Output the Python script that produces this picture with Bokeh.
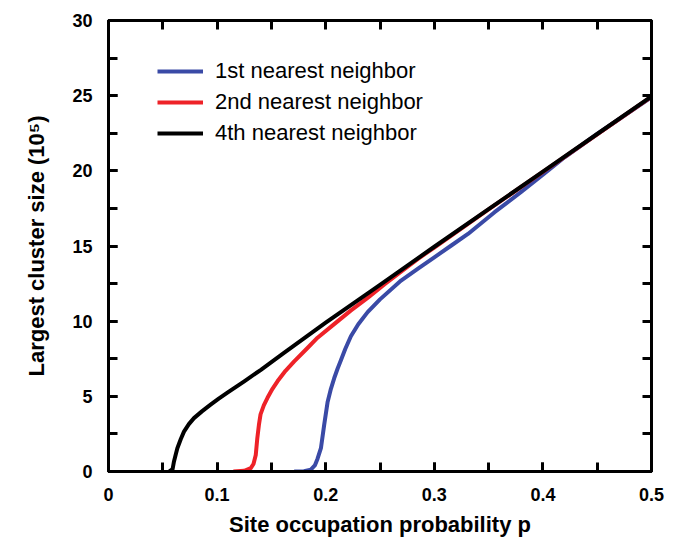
from bokeh.plotting import figure
from bokeh.models import LinearAxis, SingleIntervalTicker, FixedTicker, Legend, LegendItem, Range1d
from bokeh.embed import file_html
from bokeh.resources import INLINE

# Data
p_first = [0.171, 0.18, 0.1863, 0.1900, 0.1925, 0.1956, 0.1986, 0.2017, 0.2048, 0.2078, 0.211,
           0.214, 0.218, 0.2232, 0.23, 0.2386, 0.25, 0.2694, 0.285, 0.3, 0.315, 0.331, 0.3555,
           0.38, 0.4, 0.42, 0.45, 0.5]
y_first = [0, 0.02, 0.12, 0.4, 0.85, 1.55, 3.1, 4.6, 5.5, 6.2, 6.85,
           7.4, 8.15, 9.0, 9.8, 10.6, 11.45, 12.7, 13.5, 14.25, 15.0, 15.8, 17.25,
           18.6, 19.75, 20.9, 22.45, 24.9]

p_second = [0.115, 0.125, 0.131, 0.1335, 0.1356, 0.137, 0.1385, 0.140, 0.1430, 0.1464, 0.1510,
            0.1556, 0.163, 0.171, 0.183, 0.1925, 0.2078, 0.223, 0.2386, 0.254, 0.2694, 0.285,
            0.3, 0.35, 0.4, 0.45, 0.5]
y_second = [0, 0.05, 0.22, 0.5, 1.1, 2.2, 3.1, 3.8, 4.4, 4.9, 5.5,
            6.0, 6.7, 7.33, 8.2, 8.9, 9.8, 10.7, 11.55, 12.45, 13.3, 14.15,
            14.9, 17.43, 19.93, 22.43, 24.93]

p_fourth = [0.056, 0.0590, 0.0603, 0.0618, 0.0634, 0.0665, 0.0695, 0.074, 0.0787, 0.086, 0.094,
            0.1015, 0.1095, 0.125, 0.14, 0.16, 0.2, 0.25, 0.3, 0.35, 0.4, 0.45, 0.5]
y_fourth = [0, 0.15, 0.67, 1.1, 1.55, 2.15, 2.65, 3.15, 3.55, 4.0, 4.45,
            4.85, 5.25, 6.0, 6.75, 7.8, 9.9, 12.42, 14.95, 17.45, 19.95, 22.45, 24.95]

labels = ["1st nearest neighbor", "2nd nearest neighbor", "4th nearest neighbor"]
colors = ["#3a4aa6", "#ee2228", "#000000"]

x_tick_marks = [0, 0.05, 0.1, 0.15, 0.2, 0.25, 0.3, 0.35, 0.4, 0.45, 0.5]
y_tick_marks = [0, 2.5, 5, 7.5, 10, 12.5, 15, 17.5, 20, 22.5, 25, 27.5, 30]

FONT = "Liberation Sans"

p = figure(width=682, height=541, x_range=Range1d(0, 0.5), y_range=Range1d(0, 30),
           output_backend="svg", toolbar_location=None,
           min_border_left=108, min_border_right=31, min_border_top=20, min_border_bottom=70,
           x_axis_label="Site occupation probability p",
           y_axis_label="Largest cluster size (10\u2075)")
p.xgrid.visible = False
p.ygrid.visible = False
p.outline_line_color = "black"
p.outline_line_width = 3
p.outline_line_alpha = 1.0


def style_ticks(ax):
    ax.axis_line_width = 3
    ax.axis_line_color = "black"
    ax.major_tick_line_width = 3
    ax.minor_tick_line_width = 3
    ax.major_tick_in = 9
    ax.major_tick_out = 0
    ax.minor_tick_in = 9
    ax.minor_tick_out = 0
    ax.major_tick_line_color = "black"
    ax.minor_tick_line_color = "black"


def style_labels(ax):
    ax.major_label_text_font = FONT
    ax.major_label_text_font_style = "bold"
    ax.major_label_text_font_size = "18px"
    ax.major_label_text_color = "black"
    ax.major_label_standoff = 16
    ax.axis_label_text_font = FONT
    ax.axis_label_text_font_style = "bold"
    ax.axis_label_text_font_size = "22px"
    ax.axis_label_text_color = "black"


xa = p.xaxis[0]
xa.ticker = SingleIntervalTicker(interval=0.1, num_minor_ticks=2)
style_ticks(xa)
style_labels(xa)
xa.major_label_overrides = {0: "0"}
xa.axis_label_standoff = 8

ya = p.yaxis[0]
ya.ticker = SingleIntervalTicker(interval=5, num_minor_ticks=2)
style_ticks(ya)
style_labels(ya)
ya.axis_label_standoff = 20

# mirrored tick-only axes (no labels): only minor ticks, no major ticks
top = LinearAxis(ticker=FixedTicker(ticks=[], minor_ticks=x_tick_marks))
style_ticks(top)
p.add_layout(top, "above")
right = LinearAxis(ticker=FixedTicker(ticks=[], minor_ticks=y_tick_marks))
style_ticks(right)
p.add_layout(right, "right")

r1 = p.line(p_first, y_first, line_color=colors[0], line_width=4, line_join="round")
r2 = p.line(p_second, y_second, line_color=colors[1], line_width=4, line_join="round")
r4 = p.line(p_fourth, y_fourth, line_color=colors[2], line_width=4, line_join="round")

legend = Legend(items=[LegendItem(label=labels[0], renderers=[r1]),
                       LegendItem(label=labels[1], renderers=[r2]),
                       LegendItem(label=labels[2], renderers=[r4])],
                location=(49, 325), padding=0, margin=0, spacing=5,
                glyph_width=46, glyph_height=20, label_height=20, label_standoff=12,
                label_text_font=FONT, label_text_font_size="22px", label_text_color="black",
                border_line_color=None, background_fill_alpha=0)
p.add_layout(legend)

open("out.html", "w").write(file_html(p, INLINE))
